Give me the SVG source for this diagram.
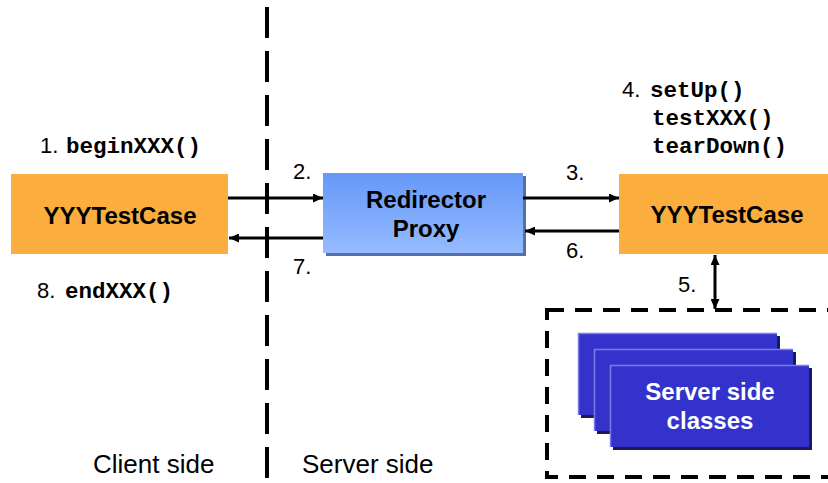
<svg xmlns="http://www.w3.org/2000/svg" width="828" height="483" viewBox="0 0 828 483">
  <style>
    .bold { font-family: "Liberation Sans", Arial, sans-serif; font-weight: bold; font-size: 24px; text-anchor: middle; }
    .num { font-family: "Liberation Sans", Arial, sans-serif; font-size: 22px; fill: #000; }
    .code { font-family: "Liberation Mono", "Courier New", monospace; font-weight: bold; font-size: 22.5px; fill: #000; }
    .side { font-family: "Liberation Sans", Arial, sans-serif; font-size: 26px; fill: #000; }
    .orange { fill: #FBAD3E; }
    .conn { stroke: #000; stroke-width: 3; fill: none; }
    .cls { fill: #3333CC; }
    .clsShadow { fill: #1A1A5E; }
    .clsLight { stroke: #7B7BE6; stroke-width: 1.5; fill: none; }
  </style>
  <defs>
    <linearGradient id="proxyGrad" x1="0" y1="0" x2="0" y2="1">
      <stop offset="0" stop-color="#6598F8"/>
      <stop offset="1" stop-color="#96BBFF"/>
    </linearGradient>
    <marker id="arrow" markerUnits="userSpaceOnUse" markerWidth="11" markerHeight="9" refX="10" refY="4.5" orient="auto">
      <path d="M0,0 L10,4.5 L0,9 z" fill="#000"/>
    </marker>
    <marker id="arrowStart" markerUnits="userSpaceOnUse" markerWidth="11" markerHeight="9" refX="0" refY="4.5" orient="auto">
      <path d="M10,0 L0,4.5 L10,9 z" fill="#000"/>
    </marker>
  </defs>

  <!-- client / server boundary -->
  <line x1="267" y1="7" x2="267" y2="480" stroke="#000" stroke-width="4" stroke-dasharray="31 13"/>

  <!-- server side classes container -->
  <rect id="container" x="547" y="310" width="300" height="167" fill="none" stroke="#000" stroke-width="4" stroke-dasharray="17 11"/>

  <g id="client-testcase">
    <rect class="orange" x="11" y="174" width="217" height="80"/>
    <text class="bold" x="120" y="224">YYYTestCase</text>
  </g>

  <g id="redirector-proxy">
    <rect x="326" y="176" width="200" height="80" fill="#5570A8"/>
    <rect x="323" y="173" width="200" height="80" fill="url(#proxyGrad)"/>
    <text class="bold" x="426" y="208">Redirector</text>
    <text class="bold" x="426" y="237">Proxy</text>
  </g>

  <g id="server-testcase">
    <rect class="orange" x="619" y="174" width="215" height="80"/>
    <text class="bold" x="727" y="223">YYYTestCase</text>
  </g>

  <g id="server-classes">
    <rect class="clsShadow" x="581" y="336" width="199" height="82"/>
    <rect class="cls" x="578" y="333" width="199" height="82"/>
    <polyline class="clsLight" points="578.5,415 578.5,333.5 777,333.5"/>
    <rect class="clsShadow" x="597" y="352" width="199" height="82"/>
    <rect class="cls" x="594" y="349" width="199" height="82"/>
    <polyline class="clsLight" points="594.5,431 594.5,349.5 793,349.5"/>
    <rect class="clsShadow" x="613" y="368" width="199" height="82"/>
    <rect class="cls" x="610" y="365" width="199" height="82"/>
    <polyline class="clsLight" points="610.5,447 610.5,365.5 809,365.5"/>
    <text class="bold" x="710" y="400" fill="#fff">Server side</text>
    <text class="bold" x="710" y="429" fill="#fff">classes</text>
  </g>

  <g id="connectors">
    <line class="conn" x1="228" y1="198" x2="323" y2="198" marker-end="url(#arrow)"/>
    <line class="conn" x1="323" y1="238" x2="229" y2="238" marker-end="url(#arrow)"/>
    <line class="conn" x1="523" y1="198" x2="619" y2="198" marker-end="url(#arrow)"/>
    <line class="conn" x1="619" y1="231" x2="525" y2="231" marker-end="url(#arrow)"/>
    <line class="conn" x1="715" y1="255" x2="715" y2="309" stroke-width="2.5" marker-start="url(#arrowStart)" marker-end="url(#arrow)"/>
  </g>

  <g id="labels">
    <text class="num" x="40" y="153">1.</text>
    <text class="code" x="66" y="153">beginXXX()</text>
    <text class="num" x="293" y="179">2.</text>
    <text class="num" x="566" y="180">3.</text>
    <text class="num" x="622" y="97">4.</text>
    <text class="code" x="650" y="97">setUp()</text>
    <text class="code" x="652" y="125">testXXX()</text>
    <text class="code" x="652" y="153">tearDown()</text>
    <text class="num" x="678" y="292">5.</text>
    <text class="num" x="566" y="258">6.</text>
    <text class="num" x="293" y="274">7.</text>
    <text class="num" x="37" y="298">8.</text>
    <text class="code" x="65" y="298">endXXX()</text>
    <text class="side" x="93" y="473">Client side</text>
    <text class="side" x="302" y="473">Server side</text>
  </g>
</svg>
